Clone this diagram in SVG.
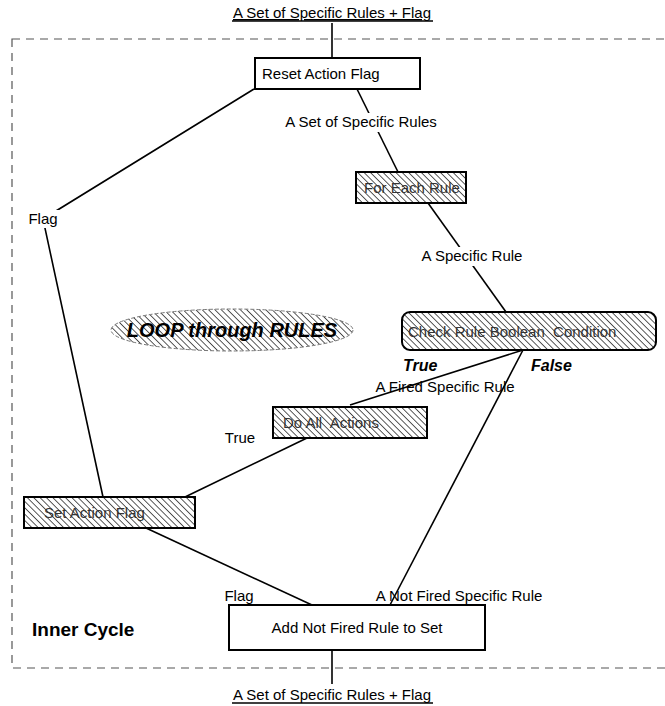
<svg xmlns="http://www.w3.org/2000/svg" width="665" height="706" viewBox="0 0 665 706">
<style>
text{font-family:"Liberation Sans",Arial,sans-serif;font-size:15px;fill:#000}
.box{fill:#fff;stroke:#000;stroke-width:2}
.hbox{fill:url(#hatch);stroke:#000;stroke-width:2}
.htxt{fill:#333}
.ln{stroke:#000;stroke-width:1.6;fill:none}
.bi{font-weight:bold;font-style:italic}
.bg{fill:#fff}
</style>
<defs>
<pattern id="hatch" width="4.5" height="4.5" patternUnits="userSpaceOnUse" patternTransform="rotate(-45)">
<rect width="4.5" height="4.5" fill="#fff"/>
<line x1="0" y1="0" x2="0" y2="4.5" stroke="#000" stroke-width="1.3"/>
</pattern>
</defs>
<rect x="12" y="39" width="670" height="629" fill="none" stroke="#555" stroke-width="1.2" stroke-dasharray="8,6"/>
<g id="connectors">
<line class="ln" x1="332" y1="23" x2="332" y2="58"/>
<line class="ln" x1="357" y1="89" x2="398" y2="172"/>
<line class="ln" x1="428" y1="203" x2="506" y2="312"/>
<polyline class="ln" points="254,89 43,219 103,497"/>
<line class="ln" x1="523" y1="350" x2="350" y2="405"/>
<line class="ln" x1="185" y1="497" x2="307" y2="438"/>
<line class="ln" x1="523" y1="350" x2="390" y2="605"/>
<line class="ln" x1="146" y1="528" x2="312" y2="605"/>
<line class="ln" x1="332" y1="650" x2="332" y2="684"/>
</g>
<g id="top-input">
<text x="332" y="18" text-anchor="middle" text-decoration="underline">A Set of Specific Rules + Flag</text>
<line x1="232" y1="21" x2="433" y2="21" stroke="#000" stroke-width="1.3"/>
</g>
<g id="reset">
<rect class="box" x="255" y="58" width="165" height="31"/>
<text x="262" y="79">Reset Action Flag</text>
</g>
<g id="lbl-set">
<rect class="bg" x="272" y="113" width="178" height="19"/>
<text x="361" y="127" text-anchor="middle">A Set of Specific Rules</text>
</g>
<g id="foreach">
<rect class="hbox" x="356" y="172" width="110" height="31"/>
<text class="htxt" x="364" y="193">For Each Rule</text>
</g>
<g id="lbl-specific">
<rect class="bg" x="414" y="247" width="116" height="19"/>
<text x="472" y="261" text-anchor="middle">A Specific Rule</text>
</g>
<g id="loop">
<ellipse cx="232" cy="330" rx="121" ry="21" fill="url(#hatch)" stroke="#777" stroke-width="1" stroke-dasharray="4,2"/>
<text class="bi" x="232" y="337" text-anchor="middle" font-size="20" style="font-size:20px">LOOP through RULES</text>
</g>
<g id="check">
<rect class="hbox" x="402" y="312" width="254" height="38" rx="8"/>
<text class="htxt" x="408" y="337" xml:space="preserve">Check Rule Boolean  Condition</text>
</g>
<text class="bi" x="403" y="371" style="font-size:16px">True</text>
<text class="bi" x="531" y="371" style="font-size:16px">False</text>
<g id="lbl-fired">
<text x="445" y="392" text-anchor="middle">A Fired Specific Rule</text>
</g>
<g id="doall">
<rect class="hbox" x="273" y="407" width="154" height="31"/>
<text class="htxt" x="283" y="428" xml:space="preserve">Do All  Actions</text>
</g>
<g id="lbl-true">
<rect class="bg" x="221" y="429" width="38" height="18"/>
<text x="240" y="443" text-anchor="middle">True</text>
</g>
<g id="lbl-flag-left">
<rect class="bg" x="24" y="210" width="38" height="18"/>
<text x="43" y="224" text-anchor="middle">Flag</text>
</g>
<g id="setflag">
<rect class="hbox" x="24" y="497" width="171" height="31"/>
<text class="htxt" x="44" y="518">Set Action Flag</text>
</g>
<g id="lbl-flag-bottom">
<rect class="bg" x="220" y="588" width="38" height="18"/>
<text x="239" y="601" text-anchor="middle">Flag</text>
</g>
<g id="lbl-notfired">
<text x="459" y="601" text-anchor="middle">A Not Fired Specific Rule</text>
</g>
<text x="32" y="636" style="font-size:19px;font-weight:bold">Inner Cycle</text>
<g id="addnotfired">
<rect class="box" x="229" y="605" width="256" height="45"/>
<text x="357" y="633" text-anchor="middle">Add Not Fired Rule to Set</text>
</g>
<g id="bottom-output">
<text x="332" y="700" text-anchor="middle">A Set of Specific Rules + Flag</text>
<line x1="232" y1="703" x2="433" y2="703" stroke="#000" stroke-width="1.3"/>
</g>
</svg>
